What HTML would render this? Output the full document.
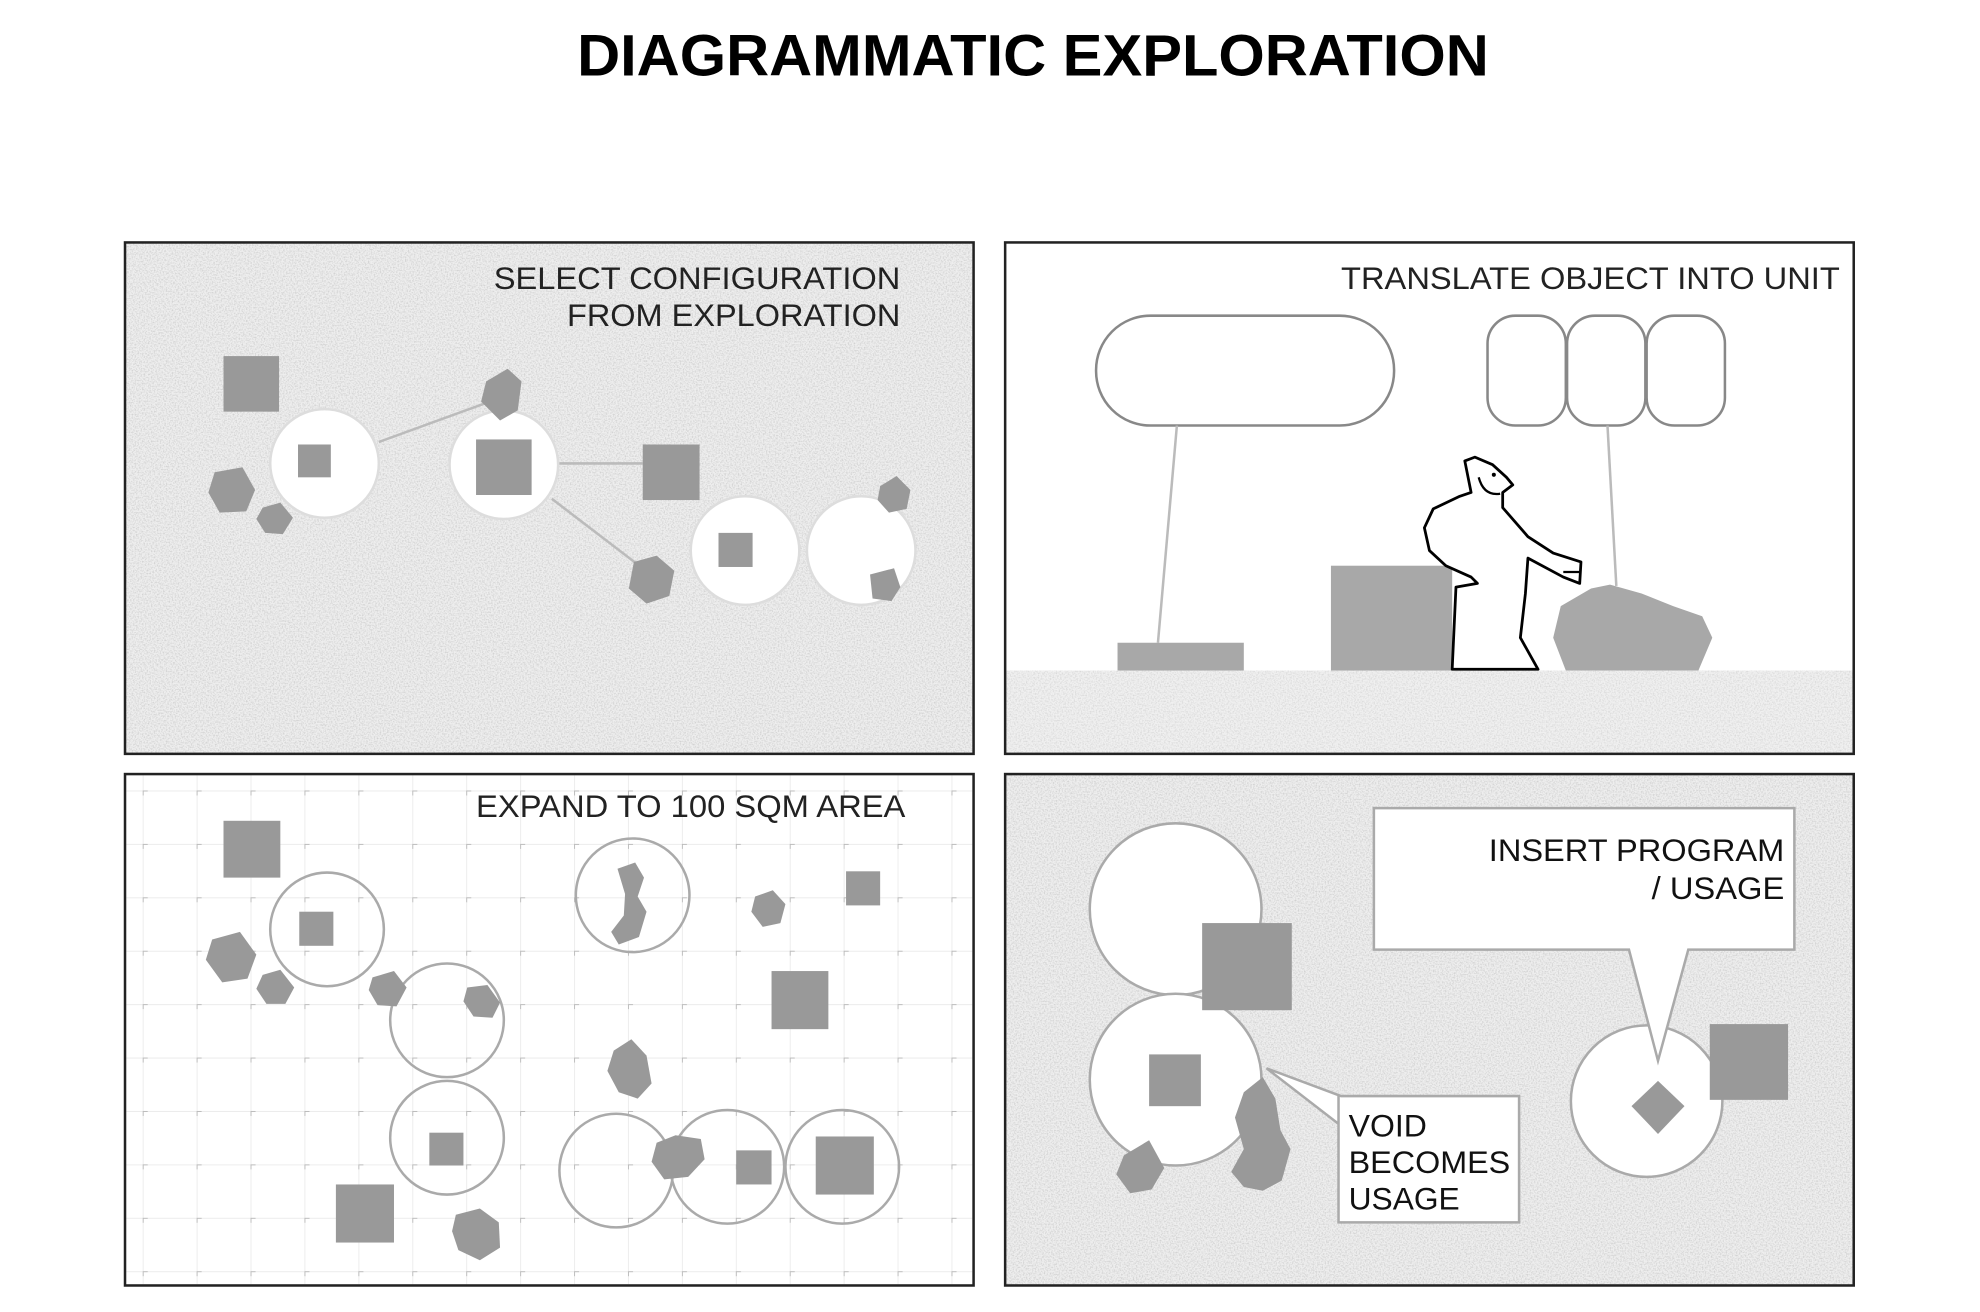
<!DOCTYPE html>
<html><head><meta charset="utf-8"><style>html,body{margin:0;padding:0;background:#fff}svg{display:block}</style></head>
<body>
<svg width="1980" height="1312" viewBox="0 0 1568 1039" preserveAspectRatio="none" xmlns="http://www.w3.org/2000/svg" font-family="Liberation Sans, Arial, sans-serif">
<defs>
<filter id="noise" x="0" y="0" width="100%" height="100%">
<feTurbulence type="fractalNoise" baseFrequency="0.85" numOctaves="2" seed="3" result="t"/>
<feColorMatrix in="t" type="matrix" values="0 0 0 0 0.6  0 0 0 0 0.6  0 0 0 0 0.6  0 0 0 -2.6 1.55"/>
</filter>
<pattern id="grid" x="113" y="626" width="42.7" height="42.3" patternUnits="userSpaceOnUse">
<path d="M0 0V42.3M0 0H42.7" stroke="#ececec" stroke-width="1.5" fill="none"/>
<path d="M-4 0H4M0 -4V4" stroke="#bbb" stroke-width="1.5"/>
</pattern>
</defs>
<rect width="1568" height="1039" fill="#fff"/>
<text x="818" y="60" font-size="46" font-weight="bold" text-anchor="middle" fill="#000" textLength="722" lengthAdjust="spacingAndGlyphs">DIAGRAMMATIC EXPLORATION</text>

<!-- TL -->
<rect x="99" y="192" width="672" height="405" fill="#eeeeee"/>
<rect x="99" y="192" width="672" height="405" filter="url(#noise)" opacity="0.8"/>
<g fill="#fff" stroke="#ddd" stroke-width="2">
<circle cx="257" cy="367" r="43"/><circle cx="399" cy="368" r="43"/><circle cx="590" cy="436" r="43"/><circle cx="682" cy="436" r="43"/>
</g>
<g stroke="#bbb" stroke-width="2"><line x1="300" y1="350" x2="388" y2="318"/><line x1="443" y1="367" x2="509" y2="367"/><line x1="437" y1="395" x2="505" y2="447"/></g>
<g fill="#999">
<rect x="177" y="282" width="44" height="44"/><rect x="236" y="352" width="26" height="26"/>
<polygon points="170,374 192,370 202,388 195,405 174,406 165,390"/>
<polygon points="208,402 222,398 232,410 224,423 210,422 203,411"/>
<polygon points="385,302 402,292 413,302 410,325 396,333 381,318"/>
<rect x="377" y="348" width="44" height="44"/><rect x="509" y="352" width="45" height="44"/>
<polygon points="502,445 520,440 534,452 530,472 512,478 498,466"/>
<rect x="569" y="422" width="27" height="27"/>
<polygon points="697,385 710,377 721,388 718,403 704,406 695,396"/>
<polygon points="689,455 708,450 713,465 706,476 691,474"/>
</g>
<g fill="#222" font-size="25" text-anchor="end" lengthAdjust="spacingAndGlyphs"><text x="713" y="229" textLength="322" lengthAdjust="spacingAndGlyphs">SELECT CONFIGURATION</text><text x="713" y="258" textLength="264" lengthAdjust="spacingAndGlyphs">FROM EXPLORATION</text></g>
<rect x="99" y="192" width="672" height="405" fill="none" stroke="#222" stroke-width="2"/>

<!-- TR -->
<rect x="796" y="192" width="672" height="405" fill="#fff"/>
<rect x="797" y="531" width="670" height="66" fill="#f0f0f0"/>
<rect x="797" y="531" width="670" height="66" filter="url(#noise)" opacity="0.6"/>
<text x="1457" y="229" font-size="25" text-anchor="end" fill="#222" textLength="395" lengthAdjust="spacingAndGlyphs">TRANSLATE OBJECT INTO UNIT</text>
<g fill="#fff" stroke="#888" stroke-width="2">
<rect x="868" y="250" width="236" height="87" rx="43"/>
<rect x="1178" y="250" width="62" height="87" rx="22"/><rect x="1241" y="250" width="62" height="87" rx="22"/><rect x="1304" y="250" width="62" height="87" rx="22"/>
</g>
<g stroke="#bbb" stroke-width="2"><line x1="932" y1="337" x2="917" y2="509"/><line x1="1273" y1="337" x2="1280" y2="464"/></g>
<g fill="#a8a8a8">
<rect x="885" y="509" width="100" height="22"/><rect x="1054" y="448" width="96" height="83"/>
<path d="M1240,531 L1230,505 L1236,480 L1260,466 L1275,463 L1300,470 L1325,480 L1348,488 L1356,505 L1345,531 Z"/>
</g>
<path d="M1150,530 L1153,465 L1170,462 L1165,457 L1145,448 L1132,436 L1128,418 L1135,403 L1156,393 L1165,390 L1160,365 L1168,362 L1182,368 L1193,378 L1198,384 L1190,390 L1190,402 L1210,425 L1230,438 L1252,445 L1251,462 L1238,457 L1210,442 L1208,470 L1204,505 L1218,530 Z" fill="#fff" stroke="#000" stroke-width="2.2" stroke-linejoin="round"/>
<path d="M1171,378 Q1175,393 1188,391" fill="none" stroke="#000" stroke-width="1.8"/>
<circle cx="1183" cy="376" r="1.6" fill="#000"/>
<line x1="1238" y1="453" x2="1251" y2="453" stroke="#000" stroke-width="1.8"/>
<rect x="796" y="192" width="672" height="405" fill="none" stroke="#222" stroke-width="2"/>

<!-- BL -->
<rect x="99" y="613" width="672" height="405" fill="#fff"/>
<rect x="100" y="614" width="670" height="403" fill="url(#grid)"/>
<g fill="none" stroke="#aaa" stroke-width="2">
<circle cx="259" cy="736" r="45"/><circle cx="354" cy="808" r="45"/><circle cx="354" cy="901" r="45"/>
<circle cx="501" cy="709" r="45"/><circle cx="488" cy="927" r="45"/><circle cx="576" cy="924" r="45"/><circle cx="667" cy="924" r="45"/>
</g>
<g fill="#999">
<rect x="177" y="650" width="45" height="45"/><rect x="237" y="722" width="27" height="27"/>
<polygon points="168,744 190,738 203,756 196,775 176,778 163,760"/>
<polygon points="208,772 222,768 233,782 226,795 211,795 203,783"/>
<polygon points="295,774 312,769 322,782 314,797 299,796 292,784"/>
<polygon points="370,782 386,780 396,794 390,806 375,805 367,793"/>
<rect x="340" y="897" width="27" height="26"/><rect x="266" y="938" width="46" height="46"/>
<polygon points="361,962 380,957 395,968 396,988 380,998 363,990 358,975"/>
<path d="M489,688 L503,683 L510,695 L505,710 L512,722 L506,742 L490,748 L484,738 L494,725 L495,708 Z"/>
<polygon points="598,710 612,705 622,716 618,731 604,734 595,722"/>
<rect x="670" y="690" width="27" height="27"/><rect x="611" y="769" width="45" height="46"/>
<polygon points="486,832 500,823 512,836 516,858 505,870 490,865 481,848"/>
<polygon points="520,905 535,899 555,902 558,918 545,932 526,934 516,920"/>
<rect x="583" y="911" width="28" height="27"/><rect x="646" y="900" width="46" height="46"/>
</g>
<text x="717" y="647" font-size="25" text-anchor="end" fill="#222" textLength="340" lengthAdjust="spacingAndGlyphs">EXPAND TO 100 SQM AREA</text>
<rect x="99" y="613" width="672" height="405" fill="none" stroke="#222" stroke-width="2"/>

<!-- BR -->
<rect x="796" y="613" width="672" height="405" fill="#eeeeee"/>
<rect x="796" y="613" width="672" height="405" filter="url(#noise)" opacity="0.8"/>
<g fill="#fff" stroke="#aaa" stroke-width="2">
<circle cx="931" cy="720" r="68"/><circle cx="931" cy="855" r="68"/><circle cx="1304" cy="872" r="60"/>
</g>
<path d="M1060,868 V968 H1203 V868 H1062 L1003,846 L1060,890" fill="#fff" stroke="#aaa" stroke-width="2"/>
<path d="M1088,640 H1421 V752 H1337 L1313,840 L1290,752 H1088 Z" fill="#fff" stroke="#aaa" stroke-width="2"/>
<g fill="#999">
<rect x="952" y="731" width="71" height="69"/><rect x="910" y="835" width="41" height="41"/>
<path d="M985,865 L1000,853 L1010,870 L1014,895 L1022,910 L1015,935 L1000,943 L985,940 L975,928 L985,910 L978,885 Z"/>
<polygon points="890,915 910,903 922,925 912,942 895,945 884,930"/>
<polygon points="1313,856 1334,876 1313,898 1292,876"/>
<rect x="1354" y="811" width="62" height="60"/>
</g>
<g fill="#111" font-size="25">
<text x="1068" y="900" textLength="62" lengthAdjust="spacingAndGlyphs">VOID</text><text x="1068" y="929" textLength="128" lengthAdjust="spacingAndGlyphs">BECOMES</text><text x="1068" y="958" textLength="88" lengthAdjust="spacingAndGlyphs">USAGE</text>
<text x="1413" y="682" text-anchor="end" textLength="234" lengthAdjust="spacingAndGlyphs">INSERT PROGRAM</text><text x="1413" y="712" text-anchor="end" textLength="105" lengthAdjust="spacingAndGlyphs">/ USAGE</text>
</g>
<rect x="796" y="613" width="672" height="405" fill="none" stroke="#222" stroke-width="2"/>
</svg>
</body></html>
